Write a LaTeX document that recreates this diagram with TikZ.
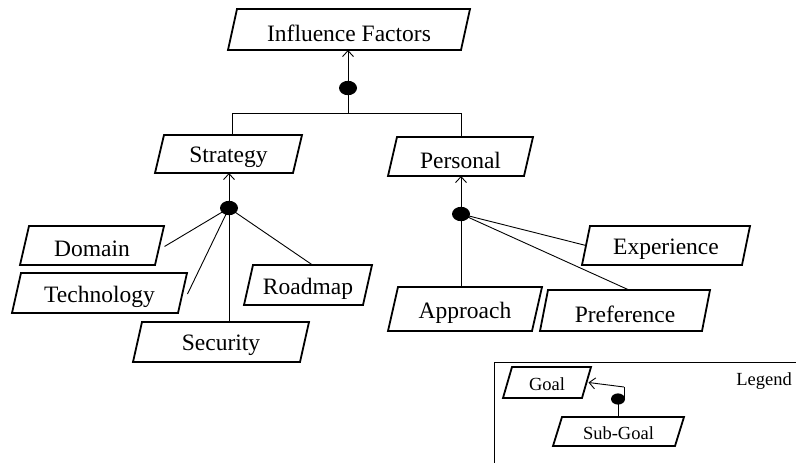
\documentclass[tikz,border=0pt]{standalone}
\usepackage{fontspec}
\setmainfont{Liberation Serif}
\usetikzlibrary{arrows.meta,calc,shapes.geometric}
\tikzset{
  pbox/.style={draw=black, line width=1.8pt, line join=miter},
  lbl/.style={inner sep=0pt, yshift=-3.5pt, font=\fontsize{23.5}{25}\selectfont},
  slbl/.style={inner sep=0pt, yshift=-2pt, font=\fontsize{18.5}{20}\selectfont},
  conn/.style={draw=black, line width=0.9pt},
  toarrow/.style={conn, -{Straight Barb[length=6pt,width=11pt,line width=0.9pt]}},
  anddot/.style={fill=black, ellipse, minimum width=#1, minimum height=#1*0.8, inner sep=0pt},
}
% name, bottom-left x, bottom-right x, top y, bottom y, slant, text, label style
\newcommand\pgbox[8]{%
  \coordinate (#1-bl) at (#2,#5);
  \coordinate (#1-br) at (#3,#5);
  \coordinate (#1-tl) at (#2+#6,#4);
  \coordinate (#1-tr) at (#3+#6,#4);
  \draw[pbox] (#1-bl) -- (#1-br) -- (#1-tr) -- (#1-tl) -- cycle;
  \coordinate (#1-top) at ($(#1-tl)!0.5!(#1-tr)$);
  \coordinate (#1-bot) at ($(#1-bl)!0.5!(#1-br)$);
  \coordinate (#1-right) at ($(#1-br)!0.5!(#1-tr)$);
  \coordinate (#1-left) at ($(#1-bl)!0.5!(#1-tl)$);
  \node[#8] (#1) at ($(#1-tl)!0.5!(#1-br)$) {#7};
}
\begin{document}
\begin{tikzpicture}[x=1pt,y=-1pt]
\useasboundingbox (0,0) rectangle (796,463);

% boxes
\pgbox{inf}{228}{461}{9}{50}{9}{Influence Factors}{lbl}
\pgbox{str}{155}{293}{135}{173}{9}{Strategy}{lbl}
\pgbox{per}{388}{524}{137}{176}{9}{Personal}{lbl}
\pgbox{dom}{20}{155}{226}{265}{9}{Domain}{lbl}
\pgbox{tec}{12}{178}{273}{313}{9}{Technology}{lbl}
\pgbox{sec}{133}{300}{322}{362}{9}{Security}{lbl}
\pgbox{roa}{244}{363}{265}{305}{9}{Roadmap}{lbl}
\pgbox{app}{388}{532}{287}{331}{10}{Approach}{lbl}
\pgbox{pre}{540}{702}{290}{331}{8}{Preference}{lbl}
\pgbox{exp}{582}{742}{226}{265}{8}{Experience}{lbl}

% top decomposition
\node[anddot=18pt] (idot) at (348,88) {};
\coordinate (barl) at (232,113);
\coordinate (barr) at (461,113);
\draw[toarrow] (idot.center) -- (idot |- inf-bot);
\draw[conn] (idot.center) -- (idot |- barl);
\draw[conn] (str-top -| barl) -- (barl) -- (barr) -- (per-top -| barr);

% strategy decomposition
\node[anddot=18pt] (sdot) at (229,208) {};
\draw[toarrow] (sdot.center) -- (sdot |- str-bot);
\coordinate (domend) at ($(dom-right)+(5,1)$);
\coordinate (tecend) at ($(tec-right)+(5,1)$);
\draw[conn] (sdot.center) -- (domend);
\draw[conn] (sdot.center) -- (tecend);
\draw[conn] (sdot.center) -- (sdot.center |- sec-top) ;
\draw[conn] (sdot.center) -- (roa-top);

% personal decomposition
\node[anddot=18pt] (pdot) at (461,214) {};
\draw[toarrow] (pdot.center) -- (pdot |- per-bot);
\draw[conn] (pdot.center) -- (pdot.center |- app-top);
\draw[conn] (pdot.center) -- (pre-top);
\draw[conn] (pdot.center) -- (exp-left);

% legend
\draw[line width=1pt] (494,463) -- (494,362) -- (796,362);
\node[slbl] (leg) at (764,379) {Legend};
\pgbox{goal}{503}{582}{367}{398}{9}{Goal}{slbl}
\pgbox{sub}{553}{675}{417}{446}{9}{Sub-Goal}{slbl}
\node[anddot=14pt] (ldot) at (618,399) {};
\coordinate (lturn) at (624,387);
\draw[conn] (ldot.center) -- (ldot.center |- sub-top);
\draw[conn] (ldot.center) ++(6,0) -- (lturn);
\draw[toarrow] (lturn) -- ($(goal-right)+(2,0)$);
\end{tikzpicture}
\end{document}
